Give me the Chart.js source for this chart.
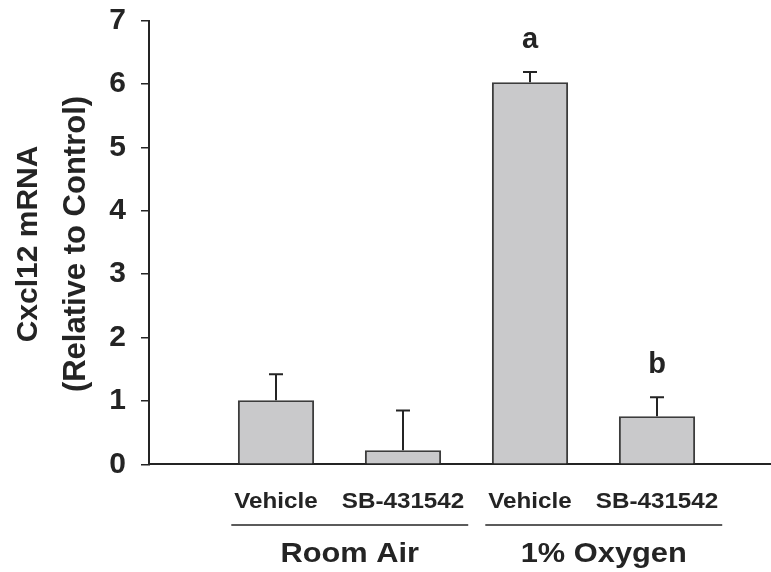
<!DOCTYPE html>
<html>
<head>
<meta charset="utf-8">
<script src="https://cdn.jsdelivr.net/npm/chart.js@4/dist/chart.umd.min.js"></script>
<style>
  html, body { margin: 0; padding: 0; background: #fff; overflow: hidden; }
  #wrap { width: 771px; height: 572px; overflow: hidden; }
</style>
</head>
<body>
<div id="wrap"><canvas id="chart" width="784" height="572"></canvas></div>
<script>
// Cxcl12 mRNA bar chart with one-sided error bars
const categories = ['Vehicle', 'SB-431542', 'Vehicle', 'SB-431542'];
const groups     = ['Room Air', '1% Oxygen'];
const means      = [1.01, 0.22, 6.03, 0.76];
const errors     = [0.41, 0.63, 0.16, 0.30];
const letters    = ['', '', 'a', 'b'];
const yTicks     = [0, 1, 2, 3, 4, 5, 6, 7];
const yTitle     = ['Cxcl12 mRNA', '(Relative to Control)'];

const INK  = '#242424';
const FONT = '"Liberation Sans", Arial, sans-serif';

// pad with empty slots so the bars sit where the original puts them
const labels = [''].concat(categories, ['']);
const values = [null].concat(means, [null]);

function text(ctx, str, x, y, size, sx) {
  ctx.save();
  ctx.translate(x, y);
  ctx.scale(sx, 1);
  ctx.font = `bold ${size}px ${FONT}`;
  ctx.textAlign = 'center';
  ctx.textBaseline = 'alphabetic';
  ctx.fillText(str, 0, 0);
  ctx.restore();
}

function textWidth(ctx, str, size, sx) {
  ctx.save();
  ctx.font = `bold ${size}px ${FONT}`;
  const w = ctx.measureText(str).width * sx;
  ctx.restore();
  return w;
}

const decorations = {
  id: 'decorations',
  afterDatasetsDraw(chart) {
    const { ctx, scales: { x, y } } = chart;
    const meta = chart.getDatasetMeta(0);
    ctx.save();
    ctx.strokeStyle = INK;
    ctx.fillStyle = INK;

    // error bars (upper only) + significance letters
    means.forEach((m, i) => {
      const bar = meta.data[i + 1];
      const top = y.getPixelForValue(m + errors[i]);
      const base = y.getPixelForValue(m);
      ctx.lineWidth = 2;
      ctx.beginPath();
      ctx.moveTo(bar.x, base);
      ctx.lineTo(bar.x, top);
      ctx.moveTo(bar.x - 7, top);
      ctx.lineTo(bar.x + 7, top);
      ctx.stroke();
      if (letters[i]) text(ctx, letters[i], bar.x, top - 24, 29, 1);
    });

    // category labels
    const catY = 508;
    categories.forEach((c, i) => {
      text(ctx, c, x.getPixelForValue(i + 1), catY, 22, 1.1);
    });

    // group underline + group names
    groups.forEach((g, gi) => {
      const a = gi * 2, b = gi * 2 + 1;
      const xa = x.getPixelForValue(a + 1), xb = x.getPixelForValue(b + 1);
      const left  = xa - textWidth(ctx, categories[a], 22, 1.1) / 2 - 3;
      const right = xb + textWidth(ctx, categories[b], 22, 1.1) / 2 + 4;
      ctx.lineWidth = 1.5;
      ctx.beginPath();
      ctx.moveTo(left, 525);
      ctx.lineTo(right, 525);
      ctx.stroke();
      text(ctx, g, (left + right) / 2, 562, 28, 1.1);
    });

    // y axis title, two rotated lines
    const cy = 244;
    [[37, 30], [85, 31]].forEach(([bx, size], i) => {
      ctx.save();
      ctx.translate(bx, cy);
      ctx.rotate(-Math.PI / 2);
      ctx.font = `bold ${size}px ${FONT}`;
      ctx.textAlign = 'center';
      ctx.fillText(yTitle[i], 0, 0);
      ctx.restore();
    });
    ctx.restore();
  }
};

new Chart(document.getElementById('chart'), {
  type: 'bar',
  data: {
    labels,
    datasets: [{
      data: values,
      backgroundColor: '#c9c9cb',
      borderColor: '#3c3c3c',
      borderWidth: 2,
      barPercentage: 0.6,
      categoryPercentage: 1,
    }],
  },
  options: {
    responsive: false,
    animation: false,
    layout: { padding: 0 },
    plugins: { legend: { display: false }, tooltip: { enabled: false } },
    scales: {
      x: {
        offset: false,
        grid: { display: false },
        border: { display: true, color: INK, width: 2 },
        ticks: { display: false },
        afterFit: s => { s.height = 572 - 464.3; },
      },
      y: {
        min: 0,
        max: 7,
        afterBuildTicks: s => { s.ticks = yTicks.map(v => ({ value: v })); },
        grid: { drawOnChartArea: false, drawTicks: true, tickLength: 8, color: INK, lineWidth: 1.5 },
        border: { display: true, color: INK, width: 2 },
        ticks: { color: INK, padding: 15, font: { family: FONT, size: 30, weight: 'bold' } },
        afterFit: s => { s.width = 149; s.paddingTop = 20.7; s.paddingBottom = 0; },
      },
    },
  },
  plugins: [decorations],
});
</script>
</body>
</html>
